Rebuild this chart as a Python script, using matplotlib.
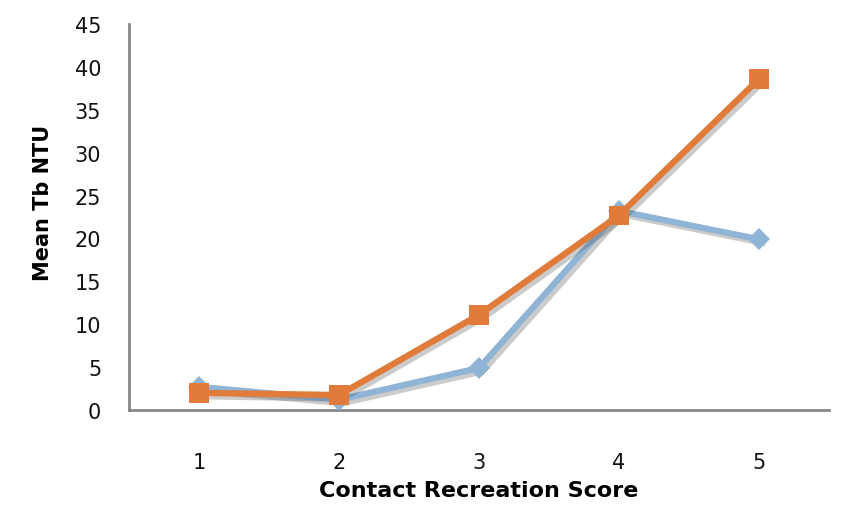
import matplotlib.pyplot as plt
import matplotlib.patheffects as pe

scores = [1, 2, 3, 4, 5]
series_blue = [2.7, 1.2, 4.9, 23.2, 19.9]
series_orange = [2.0, 1.75, 11.1, 22.7, 38.6]
yticks = [0, 5, 10, 15, 20, 25, 30, 35, 40, 45]

blue = '#8fb4d6'
orange = '#e07b39'
grey = '#878787'

plt.rcParams['font.family'] = ['DejaVu Sans']

fig = plt.figure(figsize=(8.46, 5.06), dpi=100)
ax = fig.add_axes([0.1525, 0.1877, 0.8275, 0.763])

shadow = [pe.SimpleLineShadow(offset=(2.5, -2.5), shadow_color='#555555', alpha=0.3), pe.Normal()]

ax.plot(scores, series_blue, color=blue, lw=4.5, marker='D', ms=11,
        markeredgewidth=0, path_effects=shadow, zorder=3)
ax.plot(scores, series_orange, color=orange, lw=4.5, marker='s', ms=14,
        markeredgewidth=0, path_effects=shadow, zorder=4)

ax.set_xlim(0.5, 5.5)
ax.set_ylim(0, 45)
ax.set_xticks(scores)
ax.set_yticks(yticks)
ax.tick_params(axis='both', length=0, labelsize=15, labelcolor='#111111')
ax.tick_params(axis='x', pad=30)
ax.tick_params(axis='y', pad=20)

for s in ['top', 'right']:
    ax.spines[s].set_visible(False)
for s in ['left', 'bottom']:
    ax.spines[s].set_color(grey)
    ax.spines[s].set_linewidth(2)

ax.set_xlabel('Contact Recreation Score', fontsize=16, fontweight='bold', labelpad=6)
ax.set_ylabel('Mean Tb NTU', fontsize=15, fontweight='bold')
ax.yaxis.set_label_coords(-0.108, 0.54)

fig.savefig('out.png', dpi=100)
